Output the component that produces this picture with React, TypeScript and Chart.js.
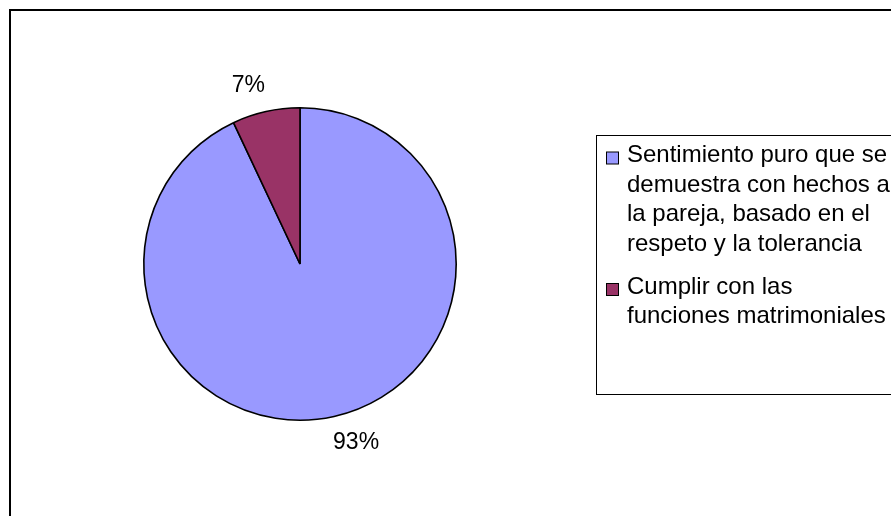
import React, { useEffect, useRef } from "react";
import { Chart, registerables } from "chart.js";

Chart.register(...registerables);

const categories: string[] = [
  "Sentimiento puro que se demuestra con hechos a la pareja, basado en el respeto y la tolerancia",
  "Cumplir con las funciones matrimoniales",
];
const values: number[] = [93, 7];
const percentLabels: string[] = ["93%", "7%"];
const colors: string[] = ["#9999FF", "#993366"];

const FONT = '"Liberation Sans", Arial, sans-serif';

function wrap(ctx: CanvasRenderingContext2D, text: string, maxW: number): string[] {
  const words = text.split(" ");
  const lines: string[] = [];
  let cur = "";
  for (const w of words) {
    const t = cur ? cur + " " + w : w;
    if (ctx.measureText(t).width > maxW && cur) {
      lines.push(cur);
      cur = w;
    } else cur = t;
  }
  if (cur) lines.push(cur);
  return lines;
}

const decorPlugin = {
  id: "decor",
  afterDraw(chart: any) {
    const ctx: CanvasRenderingContext2D = chart.ctx;
    ctx.save();
    // outer frame
    ctx.strokeStyle = "#000";
    ctx.lineWidth = 2;
    ctx.strokeRect(10, 10, 1000, 1000);

    // percent labels
    const meta = chart.getDatasetMeta(0);
    ctx.font = "23px " + FONT;
    ctx.fillStyle = "#000";
    ctx.textAlign = "center";
    ctx.textBaseline = "middle";
    meta.data.forEach((arc: any, i: number) => {
      const p = arc.getProps(["x", "y", "startAngle", "endAngle", "outerRadius"], true);
      const mid = (p.startAngle + p.endAngle) / 2;
      const d = p.outerRadius + 27;
      const w = ctx.measureText(percentLabels[i]).width;
      const c = Math.cos(mid);
      const x = p.x + d * c + Math.sign(c) * w * 0.35;
      const y = p.y + d * Math.sin(mid);
      ctx.fillText(percentLabels[i], x, y);
    });

    // legend
    ctx.lineWidth = 1;
    ctx.strokeStyle = "#000";
    ctx.strokeRect(596.5, 135.5, 400, 259);
    ctx.font = "24px " + FONT;
    ctx.textAlign = "left";
    ctx.textBaseline = "alphabetic";
    let baseline = 162;
    categories.forEach((cat, i) => {
      const lines = wrap(ctx, cat, 268);
      ctx.fillStyle = colors[i];
      ctx.fillRect(606.5, baseline - 10, 12, 12);
      ctx.strokeStyle = "#000";
      ctx.strokeRect(606.5, baseline - 10, 12, 12);
      ctx.fillStyle = "#000";
      lines.forEach((ln, j) => {
        ctx.fillText(ln, 627, baseline + j * 29.5);
      });
      baseline += (lines.length - 1) * 29.5 + 43;
    });
    ctx.restore();
  },
};

export default function App() {
  const ref = useRef<HTMLCanvasElement | null>(null);
  useEffect(() => {
    if (!ref.current) return;
    const chart = new Chart(ref.current, {
      type: "pie",
      data: {
        labels: categories,
        datasets: [
          {
            data: values,
            backgroundColor: colors,
            borderColor: "#000",
            borderWidth: 1.6,
          },
        ],
      },
      options: {
        responsive: false,
        animation: false,
        layout: { padding: { left: 143, right: 434, top: 107, bottom: 95 } },
        plugins: {
          legend: { display: false },
          tooltip: { enabled: false },
        },
      },
      plugins: [decorPlugin],
    });
    return () => chart.destroy();
  }, []);
  return (
    <div style={{ position: "absolute", left: 0, top: 0, width: 891, height: 516, background: "#fff" }}>
      <canvas ref={ref} width={891} height={516} style={{ display: "block" }} />
    </div>
  );
}
